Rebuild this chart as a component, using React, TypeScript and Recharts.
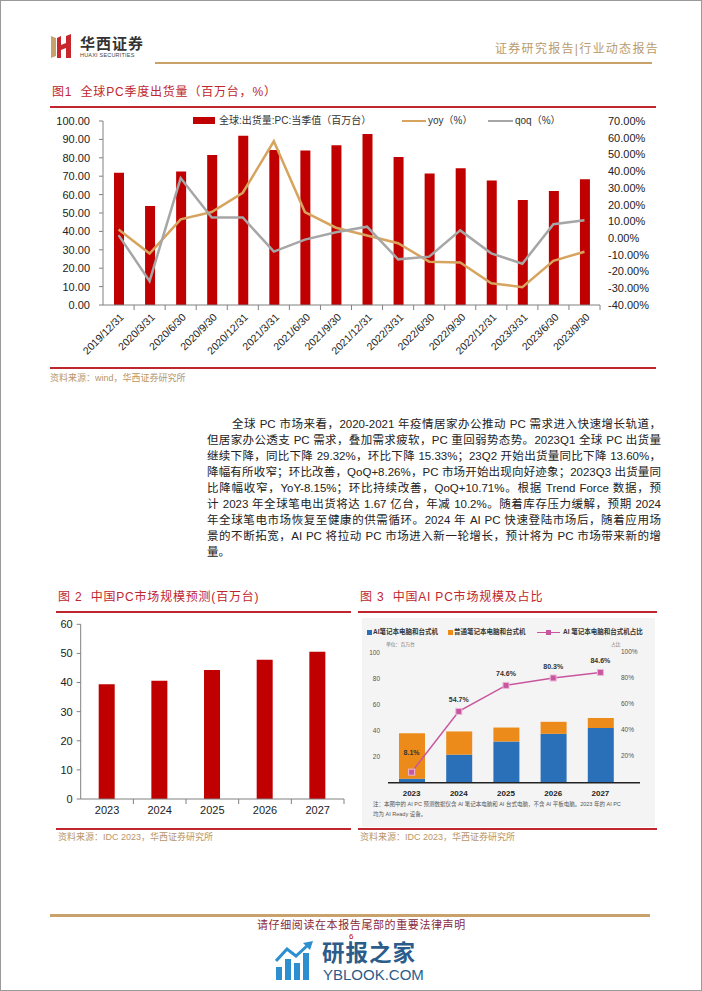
import React from 'react';
import { ComposedChart, BarChart, Bar, Line, XAxis, YAxis, LabelList } from 'recharts';

// ---------- Figure 1 data ----------
const quarters = ['2019/12/31', '2020/3/31', '2020/6/30', '2020/9/30', '2020/12/31', '2021/3/31', '2021/6/30', '2021/9/30', '2021/12/31', '2022/3/31', '2022/6/30', '2022/9/30', '2022/12/31', '2023/3/31', '2023/6/30', '2023/9/30'];
const shipments = [71.9, 53.8, 72.5, 81.5, 92.0, 84.2, 83.9, 86.8, 92.9, 80.5, 71.5, 74.3, 67.7, 57.0, 61.9, 68.4];
const yoyPct = [5.1, -9.2, 11.2, 15.6, 27.1, 57.9, 15.6, 6.2, 1.5, -3.1, -14.1, -14.6, -27.0, -29.32, -13.6, -8.15];
const qoqPct = [1.8, -25.7, 35.9, 12.3, 12.3, -8.1, -0.9, 3.5, 6.8, -12.7, -11.1, 4.6, -9.1, -15.33, 8.26, 10.71];
const leftTicks1 = [0, 10, 20, 30, 40, 50, 60, 70, 80, 90, 100];
const rightTicks1 = [-40, -30, -20, -10, 0, 10, 20, 30, 40, 50, 60, 70];

// ---------- Figure 2 data ----------
const cnYears = ['2023', '2024', '2025', '2026', '2027'];
const cnMarket = [39.4, 40.6, 44.3, 47.8, 50.6];
const ticks2 = [0, 10, 20, 30, 40, 50, 60];

// ---------- Figure 3 data ----------
const aiYears = ['2023', '2024', '2025', '2026', '2027'];
const aiPc = [3.1, 21.5, 31.6, 37.5, 42.0];
const normalPc = [34.9, 17.8, 10.7, 9.2, 7.6];
const aiShare = [8.1, 54.7, 74.6, 80.3, 84.6];
const ticks3 = [20, 40, 60, 80, 100];

const fig1Data = quarters.map((q, i) => ({ q, ship: shipments[i], yoy: yoyPct[i], qoq: qoqPct[i] }));
const fig2Data = cnYears.map((y, i) => ({ y, v: cnMarket[i] }));
const fig3Data = aiYears.map((y, i) => ({ y, ai: aiPc[i], normal: normalPc[i], share: aiShare[i] }));

const SANS = '"Liberation Sans", Arial, "Noto Sans CJK SC", sans-serif';
const CJK = '"Liberation Sans", "Noto Sans CJK SC", sans-serif';
const RED = '#c00000';
const TITLE_RED = '#c0262d';
const GOLD = '#c9a26b';
const SRC = '#b8956a';

const BAND1 = 497 / 16;

const QuarterTick = (props: any) => {
  const { x, y, payload } = props;
  return (
    <g>
      <line x1={x + BAND1 / 2} x2={x + BAND1 / 2} y1={y - 8} y2={y - 3} stroke="#808080" strokeWidth={1} />
      <text x={x + 4} y={y + 3} textAnchor="end" dominantBaseline="middle" transform={`rotate(-45 ${x + 4} ${y + 3})`} fontSize={10.5} fontFamily={SANS} fill="#222">
        {payload.value}
      </text>
    </g>
  );
};

const BAND2 = 263.3 / 5;
const YearTick2 = (props: any) => {
  const { x, y, payload } = props;
  return (
    <g>
      <line x1={x + BAND2 / 2} x2={x + BAND2 / 2} y1={y - 8} y2={y - 3} stroke="#808080" strokeWidth={1} />
      <text x={x} y={y + 4} textAnchor="middle" dominantBaseline="middle" fontSize={11} fontFamily={SANS} fill="#222">
        {payload.value}
      </text>
    </g>
  );
};

const RightPctTick3 = (props: any) => {
  const { x, y, payload } = props;
  return (
    <text x={x - 27} y={y} dominantBaseline="middle" textAnchor="start" fontSize={6.5} fontFamily={SANS} fill="#555">
      {payload.value + '%'}
    </text>
  );
};

const SquareDot = (props: any) => {
  const { cx, cy } = props;
  if (cx == null || cy == null) return null;
  return <rect x={cx - 3} y={cy - 3} width={6} height={6} fill="#c8559e" stroke="#eab8da" strokeWidth={1} />;
};

const ShareLabel = (props: any) => {
  const { x, y, value, index } = props;
  return (
    <text x={x} y={y - (index === 0 ? 17 : 9)} textAnchor="middle" fontSize={7} fontWeight={700} fontFamily={SANS} fill="#333">
      {value + '%'}
    </text>
  );
};

const abs = (left: number, top: number, extra: React.CSSProperties = {}): React.CSSProperties => ({
  position: 'absolute',
  left,
  top,
  whiteSpace: 'nowrap',
  lineHeight: 1,
  ...extra,
});

const paraLines = [
  '全球 PC 市场来看，2020-2021 年疫情居家办公推动 PC 需求进入快速增长轨道，',
  '但居家办公透支 PC 需求，叠加需求疲软，PC 重回弱势态势。2023Q1 全球 PC 出货量',
  '继续下降，同比下降 29.32%，环比下降 15.33%；23Q2 开始出货量同比下降 13.60%，',
  '降幅有所收窄；环比改善，QoQ+8.26%，PC 市场开始出现向好迹象；2023Q3 出货量同',
  '比降幅收窄，YoY-8.15%；环比持续改善，QoQ+10.71%。根据 Trend Force 数据，预',
  '计 2023 年全球笔电出货将达 1.67 亿台，年减 10.2%。随着库存压力缓解，预期 2024',
  '年全球笔电市场恢复至健康的供需循环。2024 年 AI PC 快速登陆市场后，随着应用场',
  '景的不断拓宽，AI  PC 将拉动 PC 市场进入新一轮增长，预计将为 PC 市场带来新的增',
  '量。',
];

export default function App() {
  return (
    <div style={{ position: 'absolute', left: 0, top: 0, width: 702, height: 991, background: '#fff', overflow: 'hidden', fontFamily: CJK }}>
      {/* page border */}
      <div style={{ position: 'absolute', left: 0, top: 0, width: 700, height: 989, border: '1px solid #9a9a9a' }} />

      {/* header logo */}
      <svg style={{ position: 'absolute', left: 49, top: 34 }} width={26} height={26}>
        <polygon points="2,2 7,4 7,22 2,24" fill="#c9a26b" />
        <polygon points="8,4 12,2 12,11 17,9 17,2 22,0 22,24 17,24 17,14 12,16 12,24 8,24" fill="#c8262d" />
      </svg>
      <div style={abs(80, 35, { fontSize: 15, fontWeight: 700, color: '#333', letterSpacing: 1, fontFamily: '"Noto Sans CJK SC", serif' })}>华西证券</div>
      <div style={abs(80, 53, { fontSize: 5.5, color: '#444', fontFamily: SANS, letterSpacing: 0.2 })}>HUAXI SECURITIES</div>
      <div style={abs(495, 43, { fontSize: 12, color: '#b89b6e', letterSpacing: 1.3 })}>证券研究报告|行业动态报告</div>
      <div style={{ position: 'absolute', left: 155, top: 62, width: 497, height: 2, background: GOLD }} />

      {/* Figure 1 */}
      <div style={abs(52, 86, { fontSize: 12, color: TITLE_RED, letterSpacing: 0.8 })}>图1&nbsp;&nbsp;全球PC季度出货量（百万台，%）</div>
      <div style={{ position: 'absolute', left: 50, top: 106, width: 606, height: 1.5, background: TITLE_RED }} />

      <div style={{ position: 'absolute', left: 0, top: 100 }}>
        <ComposedChart width={702} height={280} data={fig1Data} margin={{ top: 21, right: 42, bottom: 15, left: 43 }}>
          <XAxis dataKey="q" interval={0} tick={<QuarterTick />} tickLine={false} axisLine={{ stroke: '#808080' }} height={60} />
          <YAxis
            yAxisId="l"
            domain={[0, 100]}
            ticks={leftTicks1}
            interval={0}
            tickFormatter={(v: number) => v.toFixed(2)}
            width={60}
            tickSize={4}
            tickMargin={9}
            axisLine={{ stroke: '#808080' }}
            tickLine={{ stroke: '#808080' }}
            tick={{ fontSize: 11, fontFamily: SANS, fill: '#222' }}
          />
          <YAxis
            yAxisId="r"
            orientation="right"
            domain={[-40, 70]}
            ticks={rightTicks1}
            interval={0}
            tickFormatter={(v: number) => v.toFixed(2) + '%'}
            width={60}
            axisLine={false}
            tickLine={false}
            tick={{ fontSize: 11, fontFamily: SANS, fill: '#222' }}
          />
          <Bar yAxisId="l" dataKey="ship" fill={RED} barSize={10} isAnimationActive={false} />
          <Line yAxisId="r" type="linear" dataKey="yoy" stroke="#d6a45e" strokeWidth={2.5} dot={false} isAnimationActive={false} />
          <Line yAxisId="r" type="linear" dataKey="qoq" stroke="#a6a6a6" strokeWidth={2.5} dot={false} isAnimationActive={false} />
        </ComposedChart>
      </div>
      {/* legend fig1 */}
      <div style={{ position: 'absolute', left: 193, top: 117, width: 22, height: 7, background: RED }} />
      <div style={abs(219, 115.5, { fontSize: 10, color: '#333' })}>全球:出货量:PC:当季值（百万台）</div>
      <div style={{ position: 'absolute', left: 402, top: 119.5, width: 24, height: 2.5, background: '#d6a45e' }} />
      <div style={abs(428, 115.5, { fontSize: 10, color: '#333' })}>yoy（%）</div>
      <div style={{ position: 'absolute', left: 488, top: 119.5, width: 25, height: 2.5, background: '#a6a6a6' }} />
      <div style={abs(515, 115.5, { fontSize: 10, color: '#333' })}>qoq（%）</div>

      <div style={{ position: 'absolute', left: 50, top: 367, width: 606, height: 1.5, background: TITLE_RED }} />
      <div style={abs(50, 374, { fontSize: 9, color: SRC })}>资料来源：wind，华西证券研究所</div>

      {/* paragraph */}
      {paraLines.map((line, i) => (
        <div
          key={i}
          style={{
            position: 'absolute',
            left: 207,
            top: 416 + i * 16,
            width: 454,
            boxSizing: 'border-box',
            paddingLeft: i === 0 ? 25 : 0,
            fontSize: 11.5,
            lineHeight: '16px',
            color: '#222',
            whiteSpace: 'nowrap',
            textAlign: i === paraLines.length - 1 ? 'left' : 'justify',
            textAlignLast: i === paraLines.length - 1 ? 'left' : 'justify',
          }}
        >
          {line}
        </div>
      ))}

      {/* Figure 2 */}
      <div style={abs(58, 591, { fontSize: 12, color: TITLE_RED, letterSpacing: 0.8 })}>图 2&nbsp;&nbsp;中国PC市场规模预测(百万台)</div>
      <div style={{ position: 'absolute', left: 56, top: 611, width: 295, height: 1.5, background: TITLE_RED }} />
      <div style={{ position: 'absolute', left: 0, top: 610 }}>
        <BarChart width={360} height={240} data={fig2Data} margin={{ top: 14.3, right: 16, bottom: 21, left: 20 }}>
          <XAxis dataKey="y" interval={0} tick={<YearTick2 />} tickLine={false} axisLine={{ stroke: '#808080' }} height={30} />
          <YAxis
            domain={[0, 60]}
            ticks={ticks2}
            interval={0}
            width={60.7}
            tickSize={4}
            tickMargin={4}
            axisLine={{ stroke: '#808080' }}
            tickLine={{ stroke: '#808080' }}
            tick={{ fontSize: 11, fontFamily: SANS, fill: '#222' }}
          />
          <Bar dataKey="v" fill={RED} barSize={16} isAnimationActive={false} />
        </BarChart>
      </div>
      <div style={{ position: 'absolute', left: 56, top: 828, width: 295, height: 1.5, background: TITLE_RED }} />
      <div style={abs(58, 833, { fontSize: 9, color: SRC })}>资料来源：IDC 2023，华西证券研究所</div>

      {/* Figure 3 */}
      <div style={abs(360, 591, { fontSize: 12, color: TITLE_RED, letterSpacing: 0.8 })}>图 3&nbsp;&nbsp;中国AI PC市场规模及占比</div>
      <div style={{ position: 'absolute', left: 358, top: 611, width: 299, height: 1.5, background: TITLE_RED }} />
      <div style={{ position: 'absolute', left: 362, top: 618, width: 293, height: 209, background: '#f4f4f4' }} />
      {/* legend fig3 */}
      <div style={{ position: 'absolute', left: 367, top: 629.5, width: 5, height: 5, background: '#2a70b8' }} />
      <div style={abs(373, 628.5, { fontSize: 6.5, fontWeight: 700, color: '#333' })}>AI笔记本电脑和台式机</div>
      <div style={{ position: 'absolute', left: 448, top: 629.5, width: 5, height: 5, background: '#ec8b1a' }} />
      <div style={abs(454, 628.5, { fontSize: 6.5, fontWeight: 700, color: '#333' })}>普通笔记本电脑和台式机</div>
      <div style={{ position: 'absolute', left: 537, top: 631.5, width: 23, height: 1.2, background: '#c8559e' }} />
      <div style={{ position: 'absolute', left: 546, top: 629.5, width: 5, height: 5, background: '#c8559e' }} />
      <div style={abs(563, 628.5, { fontSize: 6.5, fontWeight: 700, color: '#333' })}>AI 笔记本电脑和台式机占比</div>
      <div style={abs(386, 642.5, { fontSize: 4.8, color: '#777' })}>单位：百万台</div>
      <div style={abs(611, 642.5, { fontSize: 4.8, color: '#777' })}>占比</div>

      <div style={{ position: 'absolute', left: 355, top: 625 }}>
        <ComposedChart width={300} height={175} data={fig3Data} margin={{ top: 27.3, right: 0, bottom: 0.3, left: 0 }}>
          <XAxis
            dataKey="y"
            interval={0}
            padding={{ left: 0, right: 16 }}
            tickLine={false}
            axisLine={{ stroke: '#222', strokeWidth: 1.5 }}
            tickMargin={2}
            height={17}
            tick={{ fontSize: 8, fontWeight: 700, fontFamily: SANS, fill: '#222' }}
          />
          <YAxis
            yAxisId="l"
            domain={[0, 100]}
            ticks={ticks3}
            interval={0}
            width={33}
            axisLine={false}
            tickLine={false}
            tickMargin={2}
            tick={{ fontSize: 6.5, fontFamily: SANS, fill: '#555' }}
          />
          <YAxis yAxisId="r" orientation="right" domain={[0, 100]} ticks={ticks3} interval={0} width={15} axisLine={false} tickLine={false} tick={<RightPctTick3 />} />
          <Bar yAxisId="l" dataKey="ai" stackId="s" fill="#2a70b8" barSize={26} isAnimationActive={false} />
          <Bar yAxisId="l" dataKey="normal" stackId="s" fill="#ec8b1a" barSize={26} isAnimationActive={false} />
          <Line yAxisId="r" type="linear" dataKey="share" stroke="#c8559e" strokeWidth={1.5} dot={<SquareDot />} isAnimationActive={false}>
            <LabelList dataKey="share" content={<ShareLabel />} />
          </Line>
        </ComposedChart>
      </div>
      <div style={abs(373, 802, { fontSize: 5.5, color: '#555' })}>注：本图中的 AI PC 预测数据仅含 AI 笔记本电脑和 AI 台式电脑，不含 AI 平板电脑。2023 年的 AI PC</div>
      <div style={abs(373, 812, { fontSize: 5.5, color: '#555' })}>均为 AI Ready 设备。</div>
      <div style={{ position: 'absolute', left: 358, top: 828, width: 299, height: 1.5, background: TITLE_RED }} />
      <div style={abs(360, 833, { fontSize: 9, color: SRC })}>资料来源：IDC 2023，华西证券研究所</div>

      {/* footer */}
      <div style={{ position: 'absolute', left: 50, top: 914, width: 600, height: 2.5, background: GOLD }} />
      <div style={abs(257, 920, { fontSize: 11, color: '#8b2a3a', letterSpacing: 0.6 })}>请仔细阅读在本报告尾部的重要法律声明</div>
      <div style={abs(349, 932.5, { fontSize: 8, color: '#c00000' })}>6</div>
      <svg style={{ position: 'absolute', left: 275, top: 941 }} width={40} height={40}>
        <rect x={1} y={26} width={6} height={13} fill="#2d8fd0" />
        <rect x={10} y={18} width={6} height={21} fill="#2d8fd0" />
        <rect x={19} y={22} width={6} height={17} fill="#2d8fd0" />
        <rect x={28} y={12} width={6} height={27} fill="#2d8fd0" />
        <polyline points="1,20 12,8 21,15 33,4" fill="none" stroke="#2d8fd0" strokeWidth={3} />
        <polygon points="28,2 38,0 35,9" fill="#2d8fd0" />
      </svg>
      <div style={abs(322, 943, { fontSize: 22.5, fontWeight: 700, color: '#2b5c8a', letterSpacing: 1 })}>研报之家</div>
      <div style={abs(323, 967, { fontSize: 15, color: '#2b5c8a', fontFamily: SANS })}>YBLOOK.COM</div>
    </div>
  );
}
